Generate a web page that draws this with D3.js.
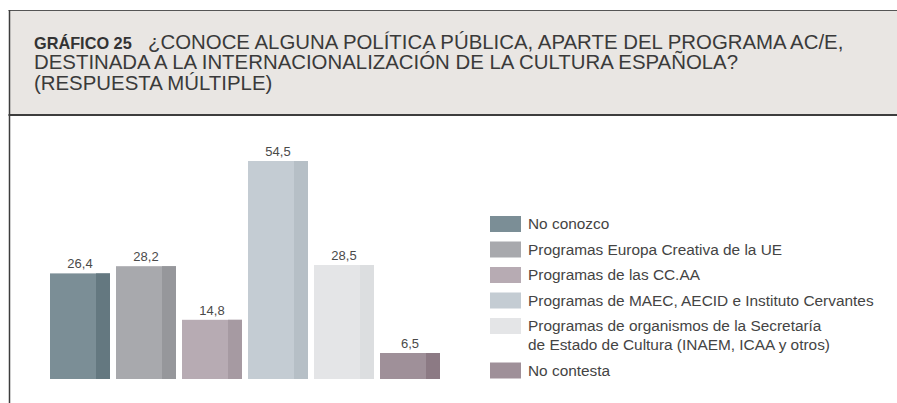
<!DOCTYPE html>
<html>
<head>
<meta charset="utf-8">
<script src="https://cdn.jsdelivr.net/npm/d3@7"></script>
<style>
  body { margin: 0; background: #fff; }
  svg { display: block; }
</style>
</head>
<body>
<div id="chart"></div>
<script>
// chart data
var categories = ["No conozco", "Programas Europa Creativa de la UE", "Programas de las CC.AA",
  "Programas de MAEC, AECID e Instituto Cervantes",
  "Programas de organismos de la Secretaría\nde Estado de Cultura (INAEM, ICAA y otros)", "No contesta"];
var values = [26.4, 28.2, 14.8, 54.5, 28.5, 6.5];
var colors = ["#7b8e96", "#a8a9ad", "#b7abb3", "#c4ccd3", "#e4e5e7", "#9f9099"];
var shades = ["#647880", "#96979b", "#a69aa2", "#b6bfc6", "#dcdee0", "#8c7a84"];
var titleLines = ["¿CONOCE ALGUNA POLÍTICA PÚBLICA, APARTE DEL PROGRAMA AC/E,",
  "DESTINADA A LA INTERNACIONALIZACIÓN DE LA CULTURA ESPAÑOLA?",
  "(RESPUESTA MÚLTIPLE)"];

var width = 897, height = 403;
var font = "'Liberation Sans', Arial, sans-serif";

var svg = d3.select("#chart").append("svg")
    .attr("width", width)
    .attr("height", height);

// header box
svg.append("rect")
    .attr("x", 9).attr("y", 10)
    .attr("width", width - 9).attr("height", 104.5)
    .attr("fill", "#e9e6e3");
svg.append("line")
    .attr("x1", 8.5).attr("x2", width).attr("y1", 10.5).attr("y2", 10.5)
    .attr("stroke", "#555").attr("stroke-width", 1.2);
svg.append("line")
    .attr("x1", 8.5).attr("x2", width).attr("y1", 115).attr("y2", 115)
    .attr("stroke", "#3d3d3d").attr("stroke-width", 2);
svg.append("line")
    .attr("x1", 9.5).attr("x2", 9.5).attr("y1", 10).attr("y2", height)
    .attr("stroke", "#3d3d3d").attr("stroke-width", 1.5);

// title
var title = svg.append("text")
    .attr("font-family", font)
    .attr("fill", "#3a3a3a");
title.append("tspan")
    .attr("x", 34).attr("y", 49)
    .attr("font-weight", "bold").attr("font-size", 16.3)
    .attr("fill", "#333")
    .text("GRÁFICO 25");
titleLines.forEach(function (t, i) {
    title.append("tspan")
        .attr("x", i == 0 ? 148 : 34)
        .attr("y", 48.5 + i * 20.5)
        .attr("font-size", 20.4)
        .text(t);
});

// bars
var x = d3.scaleBand()
    .domain(categories)
    .range([50, 440])
    .paddingInner(6 / 66)
    .paddingOuter(0);
var y = d3.scaleLinear()
    .domain([0, 60])
    .range([379, 139]);

var shadeW = x.bandwidth() * 14 / 60;

var bars = svg.append("g").selectAll("g")
    .data(values)
    .join("g");
bars.append("rect")
    .attr("x", (d, i) => x(categories[i]))
    .attr("y", d => y(d))
    .attr("width", x.bandwidth())
    .attr("height", d => y(0) - y(d))
    .attr("fill", (d, i) => colors[i]);
bars.append("rect")
    .attr("x", (d, i) => x(categories[i]) + x.bandwidth() - shadeW)
    .attr("y", d => y(d))
    .attr("width", shadeW)
    .attr("height", d => y(0) - y(d))
    .attr("fill", (d, i) => shades[i]);
bars.append("text")
    .attr("x", (d, i) => x(categories[i]) + x.bandwidth() / 2)
    .attr("y", d => y(d) - 5)
    .attr("text-anchor", "middle")
    .attr("font-family", font)
    .attr("font-size", 13)
    .attr("fill", "#4a4a4a")
    .text(d => d3.format(".1f")(d).replace(".", ","));

// legend
var legend = svg.append("g");
var ly = 216;
categories.forEach(function (c, i) {
    var lines = c.split("\n");
    legend.append("rect")
        .attr("x", 490).attr("y", ly)
        .attr("width", 31).attr("height", 16)
        .attr("fill", colors[i]);
    var t = legend.append("text")
        .attr("font-family", font)
        .attr("font-size", 15.4)
        .attr("fill", "#444");
    lines.forEach(function (l, j) {
        t.append("tspan")
            .attr("x", 528)
            .attr("y", ly + 13 + j * 19)
            .text(l);
    });
    ly += 25.5 + (lines.length - 1) * 19;
});
</script>
</body>
</html>
